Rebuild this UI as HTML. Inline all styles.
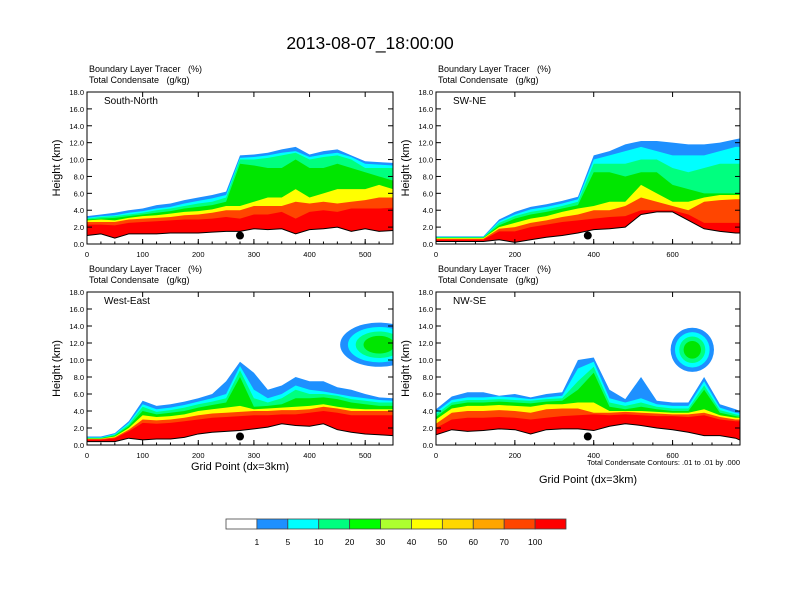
<!DOCTYPE html>
<html><head><meta charset="utf-8"><style>
body{margin:0;background:#fff;}
svg{display:block;font-family:"Liberation Sans",sans-serif;}
text{white-space:pre;}
</style></head><body>
<svg id="fig" width="792" height="612" viewBox="0 0 792 612">
<text x="370" y="49" font-size="17.5" text-anchor="middle">2013-08-07_18:00:00</text>
<g id="panels"></g>
<g id="cbar"></g>
</svg>
<script>
const NS='http://www.w3.org/2000/svg';
const levelColors=['#1e90ff','#00ffff','#00ff7f','#00e600','#ffff00','#ff4500','#ff0000'];
const cbarColors=['#ffffff','#1e90ff','#00ffff','#00ff7f','#00ff00','#adff2f','#ffff00','#ffd700','#ffa500','#ff4500','#ff0000'];
const cbarLabels=['1','5','10','20','30','40','50','60','70','100'];
const yTicks=[0,2,4,6,8,10,12,14,16,18];
const yTickLabels=['0.0','2.0','4.0','6.0','8.0','10.0','12.0','14.0','16.0','18.0'];

const xsA=[0,25,50,75,100,125,150,175,200,225,250,275,300,325,350,375,400,425,450,475,500,525,550];
const xsB=[0,40,80,120,160,200,240,280,320,360,400,440,480,520,560,600,640,680,720,760,770];

const snTerrain=[1.0,1.2,0.7,1.2,1.2,1.2,1.3,1.3,1.3,1.4,1.5,1.5,1.8,1.7,1.8,1.2,1.7,1.8,2.0,1.5,1.8,1.5,1.6];
const snLevels=[
 [3.3,3.5,3.7,4.0,4.2,4.6,4.8,5.2,5.5,5.8,6.2,10.5,10.6,10.8,11.2,11.5,10.6,11.0,11.2,10.5,9.8,9.7,9.6],
 [3.1,3.3,3.4,3.7,3.9,4.2,4.4,4.8,5.1,5.4,5.8,10.2,10.3,10.5,10.8,11.0,10.3,10.6,10.8,10.3,9.5,9.4,9.3],
 [3.0,3.2,3.3,3.5,3.7,4.0,4.2,4.5,4.8,5.0,5.5,10.0,10.0,10.2,10.5,10.8,10.0,10.3,10.5,10.0,9.0,9.0,9.0],
 [2.9,3.0,3.1,3.3,3.5,3.7,3.9,4.2,4.4,4.6,5.0,9.5,9.3,9.0,9.0,10.0,9.0,9.0,9.5,9.0,8.5,8.0,7.5],
 [2.8,2.9,2.8,3.1,3.3,3.4,3.6,3.8,3.9,4.1,4.5,4.5,5.0,5.5,5.5,6.5,5.5,6.0,6.5,6.5,6.5,7.0,6.5],
 [2.6,2.6,2.6,2.9,3.0,3.1,3.2,3.4,3.5,3.7,4.0,4.0,4.5,4.5,4.5,5.0,4.8,5.0,4.8,5.0,5.2,5.5,5.5],
 [2.3,2.3,2.2,2.5,2.6,2.7,2.8,2.9,2.9,3.0,3.2,3.0,3.5,3.5,3.8,3.0,3.8,4.0,3.8,4.2,4.2,4.2,4.3]];

const swTerrain=[0.3,0.3,0.3,0.3,0.5,0.2,0.5,0.8,1.0,1.3,1.7,1.8,2.0,3.5,3.8,3.8,2.8,1.8,1.5,1.3,1.3];
const swLevels=[
 [0.9,0.9,0.9,0.9,2.9,3.8,4.4,4.7,5.1,5.6,10.5,11.0,11.8,12.2,12.2,12.0,11.8,11.8,12.0,12.4,12.5],
 [0.85,0.85,0.85,0.85,2.7,3.5,4.1,4.4,4.8,5.3,10.0,10.5,11.0,11.5,11.0,10.5,10.5,10.5,11.0,11.5,11.5],
 [0.8,0.8,0.8,0.8,2.5,3.3,3.8,4.1,4.5,5.0,9.5,9.5,9.5,10.0,10.0,9.0,8.5,9.0,9.5,9.5,9.5],
 [0.75,0.75,0.75,0.75,2.2,3.0,3.5,3.8,4.2,4.6,8.5,8.5,8.0,8.5,8.5,7.0,6.5,6.0,6.0,6.0,6.0],
 [0.7,0.7,0.7,0.7,2.0,2.5,3.0,3.3,3.8,4.2,4.5,5.0,5.0,7.0,6.0,5.0,5.0,5.5,5.8,5.8,5.8],
 [0.6,0.6,0.6,0.6,1.8,2.0,2.5,2.8,3.2,3.5,4.0,4.0,4.5,5.5,5.0,4.5,4.0,5.0,5.2,5.3,5.3],
 [0.5,0.5,0.5,0.5,1.5,1.5,2.0,2.3,2.6,2.8,3.0,3.2,3.3,4.0,4.0,4.0,3.5,2.5,2.5,2.5,2.5]];

const weTerrain=[0.4,0.4,0.4,0.8,0.6,0.7,0.7,0.9,1.3,1.5,1.6,1.7,1.9,2.1,2.5,2.3,2.2,2.5,1.8,1.5,1.3,1.2,1.1];
const weLevels=[
 [1.0,1.0,1.4,2.8,5.2,4.6,4.8,5.1,5.5,6.0,7.5,9.8,8.5,6.5,7.0,8.0,7.5,7.5,6.8,6.5,6.0,5.6,5.5],
 [0.9,0.9,1.3,2.6,4.8,4.2,4.4,4.7,5.1,5.5,6.0,9.3,6.5,5.5,6.0,7.0,6.5,6.3,6.0,5.7,5.5,5.3,5.2],
 [0.85,0.85,1.2,2.4,4.5,3.9,4.1,4.4,4.8,5.1,5.5,8.8,5.5,5.0,5.5,6.5,6.0,6.0,5.8,5.4,5.2,5.0,5.0],
 [0.8,0.8,1.1,2.2,4.0,3.6,3.8,4.0,4.4,4.7,5.0,8.0,4.5,4.6,4.8,5.5,5.5,5.6,5.4,5.0,4.8,4.6,4.6],
 [0.75,0.75,1.0,2.0,3.5,3.3,3.4,3.6,4.0,4.2,4.4,4.6,4.2,4.3,4.4,4.5,4.6,4.8,4.5,4.3,4.2,4.2,4.2],
 [0.7,0.7,0.9,1.8,3.0,2.9,3.0,3.2,3.5,3.7,3.8,3.9,4.0,4.0,4.1,4.1,4.2,4.5,4.3,4.0,4.0,4.0,4.0],
 [0.6,0.6,0.8,1.6,2.6,2.5,2.6,2.8,3.0,3.2,3.3,3.4,3.5,3.5,3.6,3.6,3.8,4.0,3.8,3.5,3.5,3.5,3.5]];
const weBlob=[525,11.8,70,2.6];

const nwTerrain=[1.2,1.8,1.6,1.7,1.9,1.8,1.3,1.8,1.9,1.9,1.7,2.2,2.5,2.3,2.0,1.8,1.5,1.1,1.1,0.8,0.6];
const nwLevels=[
 [4.2,5.7,6.2,6.2,5.8,6.0,5.6,6.0,6.2,10.0,10.3,6.5,5.4,8.0,5.2,5.0,5.0,8.0,4.8,4.2,4.0],
 [3.9,5.3,5.6,5.6,5.7,5.6,5.4,5.6,5.8,9.0,9.8,5.5,5.0,5.5,4.8,4.6,4.6,7.5,4.4,3.8,3.7],
 [3.6,5.0,5.3,5.3,5.4,5.3,5.2,5.4,5.5,7.5,9.2,5.0,4.6,5.0,4.5,4.3,4.3,7.0,4.1,3.6,3.5],
 [3.3,4.7,5.0,5.0,5.1,5.0,4.9,5.1,5.2,6.5,8.5,4.5,4.2,4.5,4.2,4.0,4.0,6.5,3.8,3.4,3.3],
 [3.0,4.3,4.6,4.6,4.7,4.6,4.5,4.8,4.8,5.0,5.0,4.0,4.0,4.0,3.9,3.8,3.8,4.2,3.5,3.2,3.2],
 [2.5,3.8,4.0,4.0,4.1,4.0,3.8,4.2,4.3,4.3,3.8,3.8,3.9,3.8,3.7,3.6,3.6,3.8,3.3,3.0,3.0],
 [2.0,3.0,3.2,3.2,3.3,3.2,3.0,3.2,3.4,3.5,3.6,3.5,3.6,3.5,3.4,3.4,3.3,3.5,3.0,2.8,2.8]];
const nwBlob=[650,11.2,55,2.6];

const panels=[
 {name:'south-north',label:'South-North',x0:87,x1:393,y0:92,y1:244,xmax:550,xt:[0,100,200,300,400,500],xs:xsA,ter:snTerrain,lev:snLevels,blob:null,dot:275,xlabel:false},
 {name:'sw-ne',label:'SW-NE',x0:436,x1:740,y0:92,y1:244,xmax:771,xt:[0,200,400,600],xs:xsB,ter:swTerrain,lev:swLevels,blob:null,dot:385,xlabel:false},
 {name:'west-east',label:'West-East',x0:87,x1:393,y0:292,y1:445,xmax:550,xt:[0,100,200,300,400,500],xs:xsA,ter:weTerrain,lev:weLevels,blob:weBlob,dot:275,xlabel:true},
 {name:'nw-se',label:'NW-SE',x0:436,x1:740,y0:292,y1:445,xmax:771,xt:[0,200,400,600],xs:xsB,ter:nwTerrain,lev:nwLevels,blob:nwBlob,dot:385,xlabel:true}
];

function el(tag,attrs,parent){const e=document.createElementNS(NS,tag);for(const k in attrs)e.setAttribute(k,attrs[k]);parent.appendChild(e);return e;}
const root=document.getElementById('panels');

panels.forEach((p,pi)=>{
  const g=el('g',{},root);
  
  
  const X=v=>p.x0+(v/p.xmax)*(p.x1-p.x0);
  const Y=v=>p.y1-(v/18)*(p.y1-p.y0);
  const cid='clip'+pi;
  const cp=el('clipPath',{id:cid},g);el('rect',{x:p.x0,y:p.y0,width:p.x1-p.x0,height:p.y1-p.y0},cp);
  const fg=el('g',{'clip-path':'url(#'+cid+')'},g);
  p.lev.forEach((top,li)=>{
    let d='M'+X(p.xs[0])+','+Y(p.ter[0]);
    p.xs.forEach((x,i)=>{d+=' L'+X(x)+','+Y(top[i]);});
    for(let i=p.xs.length-1;i>=0;i--)d+=' L'+X(p.xs[i])+','+Y(p.ter[i]);
    const path=el('path',{d:d+'Z',fill:levelColors[li]},fg);
    
    
  });
  if(p.blob){
    const [cx,cy,rx,ry]=p.blob;
    [1,0.8,0.6,0.4].forEach((s,k)=>{
      const e=el('ellipse',{cx:X(cx),cy:Y(cy),rx:(rx*s/p.xmax)*(p.x1-p.x0),ry:(ry*s/18)*(p.y1-p.y0),fill:levelColors[k]},fg);
      
      
    });
  }
  let td='';p.xs.forEach((x,i)=>{td+=(i?' L':'M')+X(x)+','+Y(p.ter[i]);});
  const tl=el('path',{d:td,fill:'none',stroke:'#000','stroke-width':1},fg);
  
  
  const dot=el('circle',{cx:X(p.dot),cy:Y(1.0),r:4,fill:'#000'},g);
  
  
  el('rect',{x:p.x0,y:p.y0,width:p.x1-p.x0,height:p.y1-p.y0,fill:'none',stroke:'#000','stroke-width':1},g);
  yTicks.forEach((t,i)=>{
    el('line',{x1:p.x0,x2:p.x0+5,y1:Y(t),y2:Y(t),stroke:'#000'},g);
    el('line',{x1:p.x1,x2:p.x1-5,y1:Y(t),y2:Y(t),stroke:'#000'},g);
    const tx=el('text',{x:p.x0-3,y:Y(t)+3,'font-size':7.5,'text-anchor':'end'},g);
    tx.textContent=yTickLabels[i];
    
    
  });
  p.xt.forEach(t=>{
    el('line',{x1:X(t),x2:X(t),y1:p.y1,y2:p.y1-5,stroke:'#000'},g);
    el('line',{x1:X(t),x2:X(t),y1:p.y0,y2:p.y0+5,stroke:'#000'},g);
    const tx=el('text',{x:X(t),y:p.y1+13,'font-size':7.5,'text-anchor':'middle'},g);
    tx.textContent=String(t);
    
    
  });
  const step=p.xmax>600?50:25;
  for(let t=0;t<=p.xmax;t+=step){el('line',{x1:X(t),x2:X(t),y1:p.y1,y2:p.y1-2.5,stroke:'#000'},g);}
  const yl=el('text',{transform:'translate('+(p.x0-27)+','+((p.y0+p.y1)/2)+') rotate(-90)','font-size':11,'text-anchor':'middle'},g);
  yl.textContent='Height (km)';
  
  
  const lb=el('text',{x:p.x0+17,y:p.y0+12,'font-size':10},g);
  lb.textContent=p.label;
  
  
  const h1=el('text',{x:p.x0+2,y:p.y0-20,'font-size':9},g);
  h1.textContent='Boundary Layer Tracer   (%)';
  
  
  const h2=el('text',{x:p.x0+2,y:p.y0-9,'font-size':9},g);
  h2.textContent='Total Condensate   (g/kg)';
  
  
  if(p.xlabel){
    const xy=pi===3?p.y1+38:p.y1+25;
    const xl=el('text',{x:(p.x0+p.x1)/2,y:xy,'font-size':11,'text-anchor':'middle'},g);
    xl.textContent='Grid Point (dx=3km)';
    
    
  }
  if(pi===3){
    const ct=el('text',{x:p.x1,y:p.y1+20,'font-size':7.5,'text-anchor':'end'},g);
    ct.textContent='Total Condensate Contours: .01 to .01 by .000';
    
    
  }
});

const cb=document.getElementById('cbar');
const cbx0=226,cbx1=566,cby=519,cbh=10,cbw=(cbx1-cbx0)/cbarColors.length;
cbarColors.forEach((c,i)=>{
  const r=el('rect',{x:cbx0+i*cbw,y:cby,width:cbw,height:cbh,fill:c,stroke:'#444','stroke-width':0.8},cb);
  
  
});
cbarLabels.forEach((l,i)=>{
  const t=el('text',{x:cbx0+(i+1)*cbw,y:cby+26,'font-size':8.5,'text-anchor':'middle'},cb);
  t.textContent=l;
  
  
});
</script>
</body></html>
